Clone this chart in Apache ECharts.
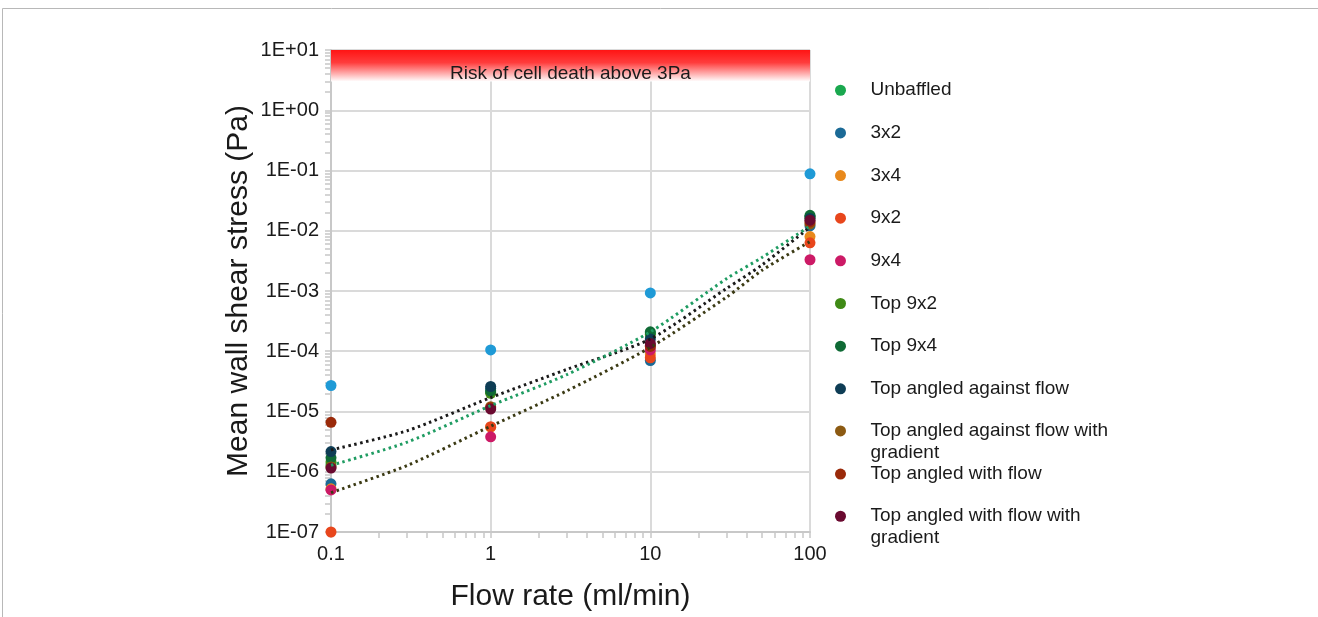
<!DOCTYPE html>
<html>
<head>
<meta charset="utf-8">
<script src="https://cdn.jsdelivr.net/npm/echarts@6/dist/echarts.min.js"></script>
<style>
html,body{margin:0;padding:0;background:#fff;}
#chart{width:1318px;height:617px;}
</style>
</head>
<body>
<div id="chart"></div>
<script>
// ---- data ----
const flowRates = [0.1, 1, 10, 100];
const seriesNames = [
  'Unbaffled', '3x2', '3x4', '9x2', '9x4', 'Top 9x2', 'Top 9x4',
  'Top angled against flow', 'Top angled against flow with gradient',
  'Top angled with flow', 'Top angled with flow with gradient'
];
const unbaffled        = [1.3e-6, 2.1e-5, 2.0e-4, 0.017];
const s3x2             = [6.3e-7, 2.4e-5, 7.0e-5, 0.012];
const s3x4             = [5.2e-7, 5.5e-6, 9.0e-5, 0.008];
const s9x2             = [1.0e-7, 5.6e-6, 7.8e-5, 0.0063];
const s9x4             = [5.0e-7, 3.8e-6, 1.05e-4, 0.0033];
const top9x2           = [1.45e-6, 2.0e-5, 1.9e-4, 0.017];
const top9x4           = [1.7e-6, 2.2e-5, 2.1e-4, 0.018];
const angledAgainst    = [2.16e-6, 2.6e-5, 1.6e-4, 0.016];
const angledAgainstGr  = [1.2e-6, 1.2e-5, 1.25e-4, 0.013];
const angledWith       = [6.6e-6, 1.15e-5, 1.2e-4, 0.014];
const angledWithGr     = [1.15e-6, 1.1e-5, 1.35e-4, 0.015];
const extraSeries      = [2.7e-5, 1.05e-4, 9.3e-4, 0.088];
const seriesValues = [unbaffled, s3x2, s3x4, s9x2, s9x4, top9x2, top9x4,
  angledAgainst, angledAgainstGr, angledWith, angledWithGr];
const seriesColors = ['#1aa84f', '#1b6a96', '#e8891c', '#e8461c', '#cc1a66', '#3f8a16',
  '#0f6a35', '#0e3d55', '#8c5a12', '#9a2a0a', '#6a0a30'];
const extraColor = '#1f9ad6';

// trend lines
const trendX     = [0.1, 0.3, 1, 3, 10, 30, 50, 100];
const trendBlack = [2.3e-6, 4.8e-6, 1.7e-5, 5.0e-5, 1.6e-4, 1.1e-3, 2.7e-3, 1.15e-2];
const trendGreen = [1.28e-6, 3.1e-6, 1.25e-5, 4.1e-5, 2.1e-4, 1.6e-3, 3.6e-3, 1.2e-2];
const trendOlive = [4.5e-7, 1.27e-6, 5.7e-6, 2.2e-5, 1.16e-4, 7.9e-4, 2.2e-3, 6.6e-3];

const xTickLabels = ['0.1', '1', '10', '100'];
const yTickLabels = ['1E-07', '1E-06', '1E-05', '1E-04', '1E-03', '1E-02', '1E-01', '1E+00', '1E+01'];
const riskThreshold = 3, riskTop = 10;
const riskLabel = 'Risk of cell death above 3Pa';

// minor tick positions (log decades)
function minorTicks(lo, hi) {
  const out = [];
  for (let e = lo; e < hi; e++) {
    for (let m = 2; m <= 9; m++) out.push(+(m * Math.pow(10, e)).toPrecision(3));
  }
  return out;
}

const FONT = '"Liberation Sans", Arial, Helvetica, sans-serif';
const chart = echarts.init(document.getElementById('chart'), null, {renderer: 'canvas'});

const series = [];
seriesNames.forEach((name, i) => {
  series.push({
    name: name, type: 'scatter', symbol: 'circle', symbolSize: 11,
    itemStyle: {color: seriesColors[i], opacity: 1},
    data: flowRates.map((x, j) => [x, seriesValues[i][j]]),
    z: 3
  });
});
series.push({
  name: 'Series 12', type: 'scatter', symbol: 'circle', symbolSize: 11,
  itemStyle: {color: extraColor, opacity: 1},
  data: flowRates.map((x, j) => [x, extraSeries[j]]), z: 3,
  markArea: {
    silent: true,
    itemStyle: {
      color: new echarts.graphic.LinearGradient(0, 0, 0, 1, [
        {offset: 0, color: '#ff1414'},
        {offset: 0.4, color: '#ff3c3c'},
        {offset: 1, color: '#ffffff'}
      ])
    },
    label: {show: true, position: 'inside', offset: [0, 8], color: '#1a1a1a', fontSize: 19, fontFamily: FONT},
    data: [[{yAxis: riskThreshold, name: riskLabel}, {yAxis: riskTop}]]
  }
});
const trendDefs = [[trendBlack, '#1a1a1a'], [trendGreen, '#1f9c62'], [trendOlive, '#3b3a14']];
trendDefs.forEach(([vals, col], k) => {
  series.push({
    name: 'trend' + k, type: 'line', symbol: 'none', smooth: 0.25,
    lineStyle: {color: col, width: 3, type: [2.5, 3.5]},
    data: trendX.map((x, j) => [x, vals[j]]), z: 5, silent: true
  });
});

const legendCenters = seriesNames.map((n, i) => 90 + i * 42.65);
const wrapMap = {
  'Top angled against flow with gradient': '\nTop angled against flow with\ngradient',
  'Top angled with flow with gradient': '\nTop angled with flow with\ngradient'
};
const legends = seriesNames.map((name, i) => {
  const wrapped = !!wrapMap[name];
  return {
    data: [name], orient: 'vertical', left: 835,
    top: legendCenters[i] - (wrapped ? 32.5 : 10.5),
    padding: 0, itemWidth: 50, itemHeight: 11, icon: 'circle',
    selectedMode: false,
    formatter: n => wrapMap[n] || n,
    textStyle: {color: '#1a1a1a', fontSize: 19, fontFamily: FONT, lineHeight: 21.5}
  };
});

const axisLineStyle = {show: true, lineStyle: {color: '#c8c8c8', width: 2}};
const option = {
  animation: false,
  backgroundColor: '#ffffff',
  graphic: [{type: 'rect', shape: {x: 2.5, y: 8.5, width: 1330, height: 640},
    style: {fill: 'none', stroke: '#b8b8b8', lineWidth: 1}, silent: true}],
  legend: legends,
  grid: {left: 331, top: 50, width: 479, height: 485},
  xAxis: [{
    type: 'log', logBase: 10, min: 0.1, max: 100, position: 'bottom',
    name: 'Flow rate (ml/min)', nameLocation: 'middle', nameGap: 50,
    nameTextStyle: {fontSize: 30, color: '#1a1a1a', fontFamily: FONT},
    axisLine: axisLineStyle,
    axisTick: {show: true, length: 6, lineStyle: {color: '#c8c8c8', width: 1.5}},
    axisLabel: {fontSize: 20, color: '#1a1a1a', fontFamily: FONT, margin: 12,
      formatter: v => xTickLabels[Math.round(Math.log10(v)) + 1]},
    splitLine: {show: true, lineStyle: {color: '#dadada', width: 2}}
  }, {
    type: 'log', logBase: 10, min: 0.1, max: 100, position: 'bottom', offset: 0,
    axisLine: {show: false},
    axisTick: {show: true, customValues: minorTicks(-1, 2), length: 6,
      lineStyle: {color: '#c8c8c8', width: 1.5}},
    axisLabel: {show: false}, splitLine: {show: false}
  }],
  yAxis: [{
    type: 'log', logBase: 10, min: 1e-7, max: 10, position: 'left',
    name: 'Mean wall shear stress (Pa)', nameLocation: 'middle', nameGap: 77,
    nameTextStyle: {fontSize: 30, color: '#1a1a1a', fontFamily: FONT},
    axisLine: axisLineStyle,
    axisTick: {show: true, length: 6, lineStyle: {color: '#c8c8c8', width: 1.5}},
    axisLabel: {fontSize: 20, color: '#1a1a1a', fontFamily: FONT, margin: 12,
      formatter: v => yTickLabels[Math.round(Math.log10(v)) + 7]},
    splitLine: {show: true, lineStyle: {color: '#dadada', width: 2}}
  }, {
    type: 'log', logBase: 10, min: 1e-7, max: 10, position: 'left', offset: 0,
    axisLine: {show: false},
    axisTick: {show: true, customValues: minorTicks(-7, 1), length: 6,
      lineStyle: {color: '#c8c8c8', width: 1.5}},
    axisLabel: {show: false}, splitLine: {show: false}
  }],
  series: series
};
chart.setOption(option);
</script>
</body>
</html>
